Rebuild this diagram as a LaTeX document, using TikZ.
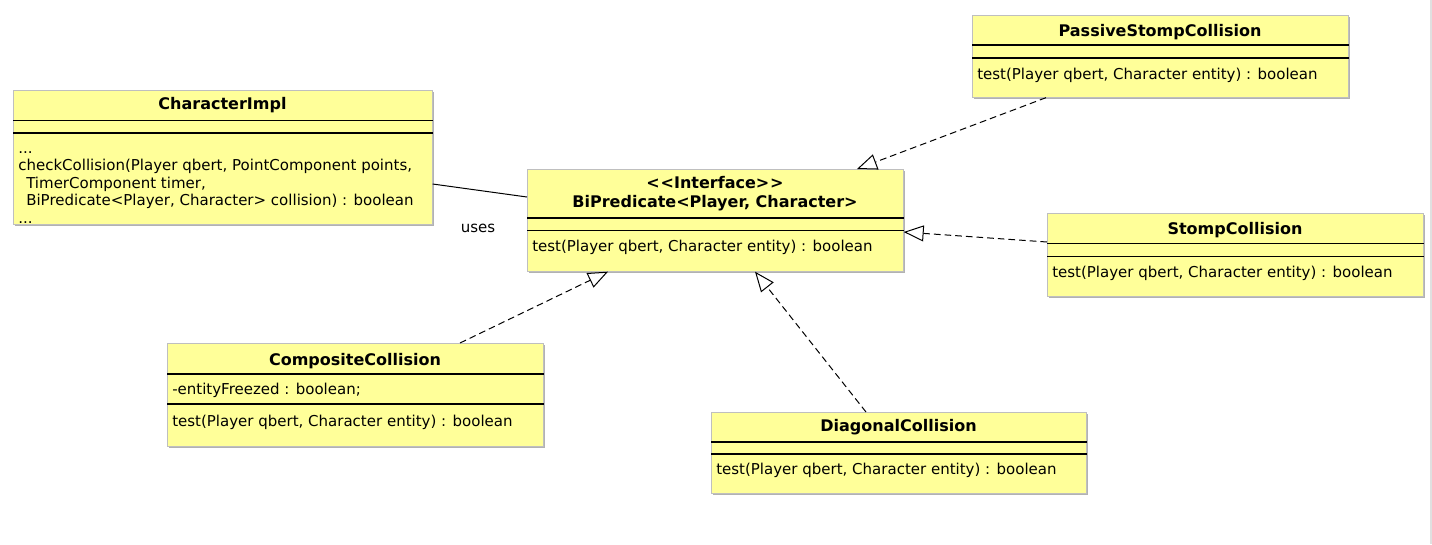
\documentclass[tikz,border=0pt]{standalone}
\usepackage{fontspec}
\setmainfont{DejaVu Sans}
\usetikzlibrary{calc, arrows.meta, shadows}
\definecolor{umlyellow}{RGB}{255,255,153}
\tikzset{
    classbox/.style = {draw=black!25, line width=0.5pt, fill=umlyellow, anchor=north west, inner sep=0pt,
        drop shadow={shadow xshift=1.5pt, shadow yshift=-1.5pt, fill=black!30, opacity=1}},
    classname/.style = {anchor=base, inner sep=0pt, font=\bfseries\fontsize{12}{14}\selectfont},
    member/.style = {anchor=base west, inner sep=0pt, font=\fontsize{11.25}{13}\selectfont},
    assoc/.style = {line width=0.75pt},
    realize/.style = {line width=0.75pt, dash pattern=on 5pt off 3pt,
        -{Triangle[open, length=15pt, width=12pt, line width=0.75pt]}},
}
\newcommand{\compline}[2]{\draw[line width=1pt] ($(#1.north west)+(0,#2)$) -- ($(#1.north east)+(0,#2)$);}

\begin{document}
\begin{tikzpicture}[x=0.75pt, y=-0.75pt]
\useasboundingbox (0,0) rectangle (1432,544);
\draw[black!12, line width=1pt] (1431,0) -- (1431,544);

\node[classbox, minimum width=419*0.75pt, minimum height=134*0.75pt] (impl) at (13,90) {};
\compline{impl}{30.5}
\compline{impl}{43}
\node[classname] (impl-name) at (222.5,109) {CharacterImpl};
\node[member] (impl-m1) at (18,153) {...};
\node[member] (impl-m2) at (18,170.5) {checkCollision(Player qbert, PointComponent points,};
\node[member] (impl-m3) at (26,188) {TimerComponent timer,};
\node[member] (impl-m4) at (26,205.5) {BiPredicate<Player, Character> collision) : boolean};
\node[member] (impl-m5) at (18,223) {...};

\node[classbox, minimum width=376*0.75pt, minimum height=102*0.75pt] (bipred) at (527,169) {};
\compline{bipred}{49}
\compline{bipred}{61.5}
\node[classname] (bipred-stereo) at (715,188) {<\kern0.6pt<Interface>\kern0.6pt>};
\node[classname] (bipred-name) at (715,207) {BiPredicate<Player, Character>};
\node[member] (bipred-m1) at (532,251) {test(Player qbert, Character entity) : boolean};

\node[classbox, minimum width=376*0.75pt, minimum height=82*0.75pt] (passive) at (972,15) {};
\compline{passive}{30}
\compline{passive}{43}
\node[classname] (passive-name) at (1160,36) {PassiveStompCollision};
\node[member] (passive-m1) at (977,79) {test(Player qbert, Character entity) : boolean};

\node[classbox, minimum width=376*0.75pt, minimum height=83*0.75pt] (stomp) at (1047,213) {};
\compline{stomp}{30.5}
\compline{stomp}{43.5}
\node[classname] (stomp-name) at (1235,234) {StompCollision};
\node[member] (stomp-m1) at (1052,277) {test(Player qbert, Character entity) : boolean};

\node[classbox, minimum width=376*0.75pt, minimum height=103*0.75pt] (composite) at (167,343) {};
\compline{composite}{31}
\compline{composite}{61}
\node[classname] (composite-name) at (355,365) {CompositeCollision};
\node[member] (composite-a1) at (172,394) {-entityFreezed : boolean;};
\node[member] (composite-m1) at (172,426) {test(Player qbert, Character entity) : boolean};

\node[classbox, minimum width=375*0.75pt, minimum height=81*0.75pt] (diagonal) at (711,412) {};
\compline{diagonal}{30}
\compline{diagonal}{42}
\node[classname] (diagonal-name) at (898.5,431) {DiagonalCollision};
\node[member] (diagonal-m1) at (716,474) {test(Player qbert, Character entity) : boolean};

\draw[assoc] ($(impl.north east)+(0,94)$) -- ($(bipred.north west)+(0,28)$);
\node[inner sep=0pt, font=\fontsize{11.25}{13}\selectfont] (uses) at (478,228) {uses};

\draw[realize] ($(passive.south west)+(74,0)$) -- ($(bipred.north west)+(330,0)$);
\draw[realize] ($(stomp.north west)+(0,29)$) -- ($(bipred.north east)+(0,63)$);
\draw[realize] ($(composite.north west)+(293,0)$) -- ($(bipred.south west)+(81,0)$);
\draw[realize] ($(diagonal.north west)+(155,0)$) -- ($(bipred.south west)+(228,0)$);
\end{tikzpicture}
\end{document}
